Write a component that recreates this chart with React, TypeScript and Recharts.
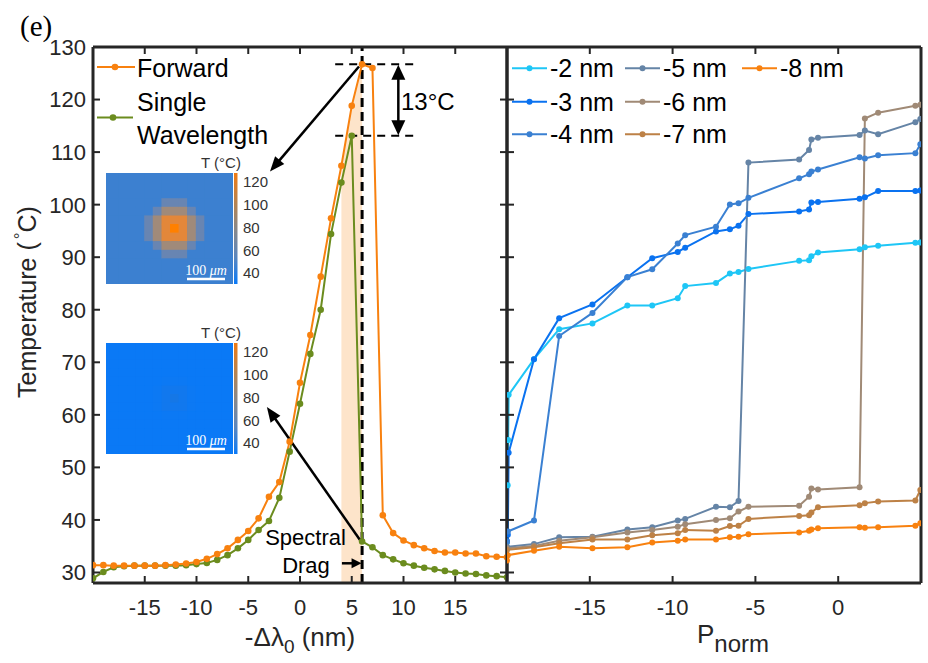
import React from 'react';
import { ComposedChart, LineChart, Line, Area, XAxis, YAxis, ReferenceLine } from 'recharts';

// ---------------- data ----------------
const detuningNm = [-20, -19, -18, -17, -16, -15, -14, -13, -12, -11, -10, -9, -8, -7, -6, -5, -4, -3, -2, -1, 0, 1, 2, 3, 4, 5, 6, 7, 8, 9, 10, 11, 12, 13, 14, 15, 16, 17, 18, 19, 20];
const forwardTempC = [31.4, 31.4, 31.3, 31.3, 31.3, 31.3, 31.3, 31.4, 31.5, 31.7, 32.0, 32.6, 33.5, 34.6, 36.2, 37.9, 40.3, 44.4, 47.2, 54.9, 66.1, 75.2, 86.3, 97.4, 107.4, 118.8, 126.7, 126.0, 40.9, 37.5, 36.1, 35.2, 34.6, 34.1, 33.8, 33.8, 33.6, 33.6, 33.1, 33.0, 32.9];
const singleTempC = [28.9, 30.1, 31.0, 31.2, 31.3, 31.3, 31.3, 31.3, 31.3, 31.4, 31.6, 31.8, 32.4, 33.3, 34.6, 36.2, 38.1, 39.8, 44.2, 53.0, 62.1, 71.6, 80.0, 94.4, 104.2, 113.1, 35.9, 34.8, 33.3, 32.5, 31.75, 31.3, 30.9, 30.6, 30.3, 30.0, 29.8, 29.7, 29.45, 29.3, 29.1];
const dragBandNm = [4, 5, 6];

const tempTicks = [30, 40, 50, 60, 70, 80, 90, 100, 110, 120, 130];
const detuningTicks = [-15, -10, -5, 0, 5, 10, 15];
const powerTicks = [-15, -10, -5, 0];

// shared P_norm sampling after the first (left-edge) points
const pGrid = [-18.37, -16.85, -14.84, -12.73, -11.23, -9.69, -9.24, -7.38, -6.54, -6.02, -5.42, -2.36, -1.76, -1.62, -1.22, 1.29, 1.61, 2.41, 4.66, 4.96];

const m2Start = { p: [-20, -19.96, -19.93, -19.9], t: [35.8, 46.6, 55.2, 63.8] };
const m2Temp = [70.6, 76.3, 77.4, 80.8, 80.8, 82.2, 84.5, 85.1, 86.9, 87.2, 87.75, 89.3, 89.4, 90.2, 90.9, 91.5, 91.9, 92.2, 92.75, 92.8];
const m3Start = { p: [-20, -19.95, -19.9], t: [36.0, 37.2, 52.8] };
const m3Temp = [70.6, 78.4, 81.0, 86.2, 89.8, 91.0, 91.8, 94.9, 95.3, 96.0, 98.2, 98.7, 99.1, 100.4, 100.5, 101.1, 101.4, 102.6, 102.6, 102.7];
const m4Start = { p: [-20, -19.95], t: [35.8, 37.8] };
const m4Temp = [39.9, 75.0, 79.4, 86.2, 87.7, 92.6, 94.2, 95.8, 100.05, 100.25, 101.3, 105.0, 105.8, 106.3, 106.7, 109.0, 108.8, 109.4, 109.8, 111.5];
const m5Start = { p: [-20], t: [34.9] };
const m5Temp = [35.4, 36.7, 36.8, 38.2, 38.6, 39.9, 40.2, 42.5, 42.4, 43.6, 108.0, 108.6, 110.4, 112.4, 112.75, 113.25, 114.1, 113.4, 115.7, 116.3];
const m6Start = { p: [-20], t: [34.6] };
const m6Temp = [35.05, 36.05, 36.7, 37.6, 38.1, 38.7, 39.2, 40.0, 40.3, 41.6, 42.5, 42.7, 44.4, 46.0, 45.8, 46.2, 116.4, 117.5, 118.8, 119.0];
const m7Start = { p: [-20], t: [34.3] };
const m7Temp = [34.8, 35.55, 36.3, 36.3, 37.1, 37.45, 38.1, 37.95, 38.85, 38.9, 40.2, 40.75, 40.9, 41.4, 42.4, 42.8, 43.2, 43.5, 43.7, 45.7];
const m8Start = { p: [-20, -19.95], t: [32.3, 33.3] };
const m8Temp = [34.15, 34.9, 34.6, 34.8, 35.7, 36.05, 36.3, 36.3, 36.7, 36.8, 37.3, 37.6, 37.95, 38.2, 38.4, 38.6, 38.5, 38.6, 38.9, 39.35];

const sweepNames = ['-2 nm', '-3 nm', '-4 nm', '-5 nm', '-6 nm', '-7 nm', '-8 nm'];
const sweepColors = ['#1ec6f6', '#0a72f0', '#3a80d2', '#6584a6', '#a08a76', '#bd8146', '#f8810f'];
const sweepStarts = [m2Start, m3Start, m4Start, m5Start, m6Start, m7Start, m8Start];
const sweepTemps = [m2Temp, m3Temp, m4Temp, m5Temp, m6Temp, m7Temp, m8Temp];

const FORWARD_COLOR = '#f8810f';
const SINGLE_COLOR = '#6b8c1e';

// inset heat maps (ring colour by distance from the hot spot, in cells)
const heatRings1 = ['#ff8000', '#e3873a', '#a08a7a', '#6885b2', '#3c80d0'];
const heatRings2 = ['#1577e6', '#1178ee', '#0c79f4', '#0a79f6'];
const colorbarLabels = [120, 100, 80, 60, 40];

// ---------------- layout ----------------
const W = 928;
const H = 663;
const TOP = 47;
const BOTTOM = 583;
const LX0 = 93;
const MID = 507;
const RX1 = 921;
const INK = '#262626';
const FONT = '"Liberation Sans", Arial, Helvetica, sans-serif';

const leftRows = detuningNm.map((x, i) => ({
  x,
  fwd: forwardTempC[i],
  single: singleTempC[i],
  band: dragBandNm.includes(x) ? forwardTempC[i] : null,
}));

const sweeps = sweepNames.map((name, k) => {
  const ps = [...sweepStarts[k].p, ...pGrid];
  const ts = [...sweepStarts[k].t, ...sweepTemps[k]];
  return { name, color: sweepColors[k], data: ps.map((p, i) => ({ p, t: ts[i] })) };
});

// ---------------- ticks ----------------
const BottomTick = (props: any) => {
  const { x, payload } = props;
  return (
    <g>
      <line x1={x} x2={x} y1={BOTTOM} y2={BOTTOM - 7} stroke={INK} strokeWidth={2} />
      <text x={x} y={BOTTOM + 32} textAnchor="middle" fontSize={22} fill={INK} fontFamily={FONT}>
        {payload.value}
      </text>
    </g>
  );
};
const TopTick = (props: any) => {
  const { x } = props;
  return <line x1={x} x2={x} y1={TOP} y2={TOP + 7} stroke={INK} strokeWidth={2} />;
};
const LeftTick = (props: any) => {
  const { y, payload } = props;
  return (
    <g>
      <line x1={LX0} x2={LX0 + 7} y1={y} y2={y} stroke={INK} strokeWidth={2} />
      <text x={86} y={y} dy="0.36em" textAnchor="end" fontSize={22} fill={INK} fontFamily={FONT}>
        {payload.value}
      </text>
    </g>
  );
};
const MidInTickLeft = (props: any) => {
  const { y } = props;
  return <line x1={MID} x2={MID - 7} y1={y} y2={y} stroke={INK} strokeWidth={2} />;
};
const MidInTickRight = (props: any) => {
  const { y } = props;
  return <line x1={MID} x2={MID + 7} y1={y} y2={y} stroke={INK} strokeWidth={2} />;
};
const NoTick = () => <g />;

// arrow shape for reference segments
const makeArrow = (startHead: boolean, endHead: boolean, len: number, half: number, sw: number) => (p: any) => {
  const { x1, y1, x2, y2 } = p;
  const dx = x2 - x1;
  const dy = y2 - y1;
  const L = Math.hypot(dx, dy) || 1;
  const ux = dx / L;
  const uy = dy / L;
  const head = (tx: number, ty: number, dx0: number, dy0: number) => {
    const bx = tx - dx0 * len;
    const by = ty - dy0 * len;
    return `${tx},${ty} ${bx - dy0 * half},${by + dx0 * half} ${bx + dy0 * half},${by - dx0 * half}`;
  };
  const sx = startHead ? x1 + ux * len * 0.8 : x1;
  const sy = startHead ? y1 + uy * len * 0.8 : y1;
  const ex = endHead ? x2 - ux * len * 0.8 : x2;
  const ey = endHead ? y2 - uy * len * 0.8 : y2;
  return (
    <g>
      <line x1={sx} y1={sy} x2={ex} y2={ey} stroke="#000" strokeWidth={sw} />
      {startHead && <polygon points={head(x1, y1, -ux, -uy)} fill="#000" />}
      {endHead && <polygon points={head(x2, y2, ux, uy)} fill="#000" />}
    </g>
  );
};

// ---------------- insets ----------------
const HeatInset = ({ y0, rings, gid, clipId }: { y0: number; rings: string[]; gid: string; clipId: string }) => {
  const x0 = 106;
  const w = 127;
  const h = 111;
  const cell = 8.6;
  const cx = 170;
  const cy = y0 + 51;
  const cells: any[] = [];
  for (let c = -8; c <= 8; c++) {
    for (let r = -7; r <= 7; r++) {
      const d = Math.round(Math.sqrt(c * c + r * r));
      const col = rings[Math.min(d, rings.length - 1)];
      cells.push(<rect key={`${c}_${r}`} x={cx + c * cell} y={cy + r * cell} width={cell + 0.4} height={cell + 0.4} fill={col} />);
    }
  }
  const labelYs = colorbarLabels.map((_, i) => y0 + 9 + i * 22.7);
  return (
    <g>
      <defs>
        <clipPath id={clipId}>
          <rect x={x0} y={y0} width={w} height={h} />
        </clipPath>
        <linearGradient id={gid} x1="0" y1="0" x2="0" y2="1">
          <stop offset="0" stopColor="#f07a12" />
          <stop offset="0.3" stopColor="#b08458" />
          <stop offset="0.5" stopColor="#8a8888" />
          <stop offset="0.75" stopColor="#5c86bc" />
          <stop offset="1" stopColor="#0a7af8" />
        </linearGradient>
      </defs>
      <g clipPath={`url(#${clipId})`}>
        <rect x={x0} y={y0} width={w} height={h} fill={rings[rings.length - 1]} />
        {cells}
      </g>
      <rect x={234} y={y0} width={3.5} height={h} fill={`url(#${gid})`} />
      <text x={221} y={y0 - 10} dy="0.35em" textAnchor="middle" fontSize={15} fill="#333" fontFamily={FONT}>
        T (°C)
      </text>
      {colorbarLabels.map((v, i) => (
        <text key={v} x={243} y={labelYs[i]} dy="0.36em" fontSize={15} fill="#333" fontFamily={FONT}>
          {v}
        </text>
      ))}
      <line x1={187} x2={225} y1={y0 + 106} y2={y0 + 106} stroke="#fff" strokeWidth={2.5} />
      <text x={206} y={y0 + 102} textAnchor="middle" fontSize={14} fill="#fff" fontFamily='"Liberation Serif", "DejaVu Serif", serif'>
        100 <tspan fontStyle="italic">μm</tspan>
      </text>
    </g>
  );
};

export default function App() {
  return (
    <div style={{ position: 'absolute', left: 0, top: 0, width: W, height: H, background: '#fff' }}>
      {/* Left panel: temperature vs detuning */}
      <div style={{ position: 'absolute', left: 0, top: 0 }}>
        <ComposedChart width={W} height={H} data={leftRows} margin={{ top: TOP - 1, right: W - MID - 1, bottom: 50, left: 0 }}>
          <XAxis xAxisId="b" dataKey="x" type="number" domain={[-20, 20]} ticks={detuningTicks} allowDataOverflow
            height={30} tickLine={false} axisLine={{ stroke: INK, strokeWidth: 3 }} tick={<BottomTick />} interval={0} />
          <XAxis xAxisId="t" orientation="top" dataKey="x" type="number" domain={[-20, 20]} ticks={detuningTicks} allowDataOverflow
            height={1} tickLine={false} axisLine={{ stroke: INK, strokeWidth: 3 }} tick={<TopTick />} interval={0} />
          <YAxis yAxisId="l" type="number" domain={[28, 130]} ticks={tempTicks} allowDataOverflow width={LX0}
            tickLine={false} axisLine={{ stroke: INK, strokeWidth: 3 }} tick={<LeftTick />} interval={0} />
          <YAxis yAxisId="r" orientation="right" type="number" domain={[28, 130]} ticks={tempTicks} allowDataOverflow width={1}
            tickLine={false} axisLine={{ stroke: INK, strokeWidth: 3 }} tick={<MidInTickLeft />} interval={0} />

          <Area xAxisId="b" yAxisId="l" type="linear" dataKey="band" stroke="none" fill="#fde4ca" fillOpacity={1}
            isAnimationActive={false} legendType="none" dot={false} activeDot={false} />

          <ReferenceLine xAxisId="b" yAxisId="l" x={6} stroke="#000" strokeWidth={3} strokeDasharray="9 5" />
          <ReferenceLine xAxisId="b" yAxisId="l" segment={[{ x: 3.4, y: 126.7 }, { x: 11.4, y: 126.7 }]} stroke="#000" strokeWidth={2} strokeDasharray="8 6" />
          <ReferenceLine xAxisId="b" yAxisId="l" segment={[{ x: 3.4, y: 113.1 }, { x: 11.4, y: 113.1 }]} stroke="#000" strokeWidth={2} strokeDasharray="8 6" />

          <Line xAxisId="b" yAxisId="l" type="linear" dataKey="single" stroke={SINGLE_COLOR} strokeWidth={2}
            dot={{ r: 3.3, fill: SINGLE_COLOR, stroke: SINGLE_COLOR, strokeWidth: 0 }} isAnimationActive={false} />
          <Line xAxisId="b" yAxisId="l" type="linear" dataKey="fwd" stroke={FORWARD_COLOR} strokeWidth={2}
            dot={{ r: 3.3, fill: FORWARD_COLOR, stroke: FORWARD_COLOR, strokeWidth: 0 }} isAnimationActive={false} />

          <ReferenceLine xAxisId="b" yAxisId="l" segment={[{ x: 9.5, y: 126.6 }, { x: 9.5, y: 113.2 }]}
            shape={makeArrow(true, true, 15, 7, 2.5)} />
          <ReferenceLine xAxisId="b" yAxisId="l" segment={[{ x: 5.7, y: 126.3 }, { x: -2.9, y: 106.3 }]}
            shape={makeArrow(false, true, 15, 6, 2.5)} />
          <ReferenceLine xAxisId="b" yAxisId="l" segment={[{ x: 5.9, y: 35.9 }, { x: -3.2, y: 61.5 }]}
            shape={makeArrow(false, true, 15, 6, 2.5)} />
          <ReferenceLine xAxisId="b" yAxisId="l" segment={[{ x: 4.05, y: 31.75 }, { x: 5.95, y: 31.75 }]}
            shape={makeArrow(false, true, 10, 5, 2.5)} />
        </ComposedChart>
      </div>

      {/* Right panel: temperature vs normalised power */}
      <div style={{ position: 'absolute', left: 0, top: 0 }}>
        <LineChart width={W} height={H} margin={{ top: TOP - 1, right: W - RX1 - 1, bottom: 50, left: MID - 1 }}>
          <XAxis xAxisId="b" dataKey="p" type="number" domain={[-20, 5]} ticks={powerTicks} allowDataOverflow
            height={30} tickLine={false} axisLine={{ stroke: INK, strokeWidth: 3 }} tick={<BottomTick />} interval={0} />
          <XAxis xAxisId="t" orientation="top" dataKey="p" type="number" domain={[-20, 5]} ticks={powerTicks} allowDataOverflow
            height={1} tickLine={false} axisLine={{ stroke: INK, strokeWidth: 3 }} tick={<TopTick />} interval={0} />
          <YAxis yAxisId="l" type="number" domain={[28, 130]} ticks={tempTicks} allowDataOverflow width={1}
            tickLine={false} axisLine={{ stroke: INK, strokeWidth: 3 }} tick={<MidInTickRight />} interval={0} />
          <YAxis yAxisId="r" orientation="right" type="number" domain={[28, 130]} ticks={tempTicks} allowDataOverflow width={1}
            tickLine={false} axisLine={{ stroke: INK, strokeWidth: 3 }} tick={<NoTick />} interval={0} />
          {sweeps.map((s) => (
            <Line key={s.name} xAxisId="b" yAxisId="l" data={s.data} dataKey="t" name={s.name} type="linear"
              stroke={s.color} strokeWidth={2} dot={{ r: 3, fill: s.color, stroke: s.color, strokeWidth: 0 }}
              isAnimationActive={false} />
          ))}
        </LineChart>
      </div>

      {/* annotations, legends, insets */}
      <svg width={W} height={H} style={{ position: 'absolute', left: 0, top: 0, pointerEvents: 'none' }}>
        <text x={20} y={36} fontSize={29} fill="#000" fontFamily='"Liberation Serif", "Times New Roman", serif'>(e)</text>

        {/* y label */}
        <text transform="translate(36,302) rotate(-90)" textAnchor="middle" fontSize={25} fill={INK} fontFamily={FONT}>
          Temperature (<tspan dx={3} dy={-10} fontSize={17}>°</tspan><tspan dy={10}>C)</tspan>
        </text>
        {/* x labels */}
        <text x={300} y={646} textAnchor="middle" fontSize={26} fill={INK} fontFamily={FONT}>
          -Δλ<tspan dy={7} fontSize={19}>0</tspan><tspan dy={-7}> (nm)</tspan>
        </text>
        <text x={733} y={643} textAnchor="middle" fontSize={26} fill={INK} fontFamily={FONT}>
          P<tspan dy={9} fontSize={24}>norm</tspan>
        </text>

        {/* left legend */}
        <line x1={97} x2={135} y1={67} y2={67} stroke={FORWARD_COLOR} strokeWidth={2} />
        <circle cx={115} cy={67} r={3.3} fill={FORWARD_COLOR} />
        <text x={137} y={77} fontSize={25} fill="#000" fontFamily={FONT}>Forward</text>
        <line x1={97} x2={133} y1={117.5} y2={117.5} stroke={SINGLE_COLOR} strokeWidth={2} />
        <circle cx={113} cy={117.5} r={3.3} fill={SINGLE_COLOR} />
        <text x={137} y={111} fontSize={25} fill="#000" fontFamily={FONT}>Single</text>
        <text x={137} y={144} fontSize={25} fill="#000" fontFamily={FONT}>Wavelength</text>

        {/* right legend */}
        {sweeps.map((s, k) => {
          const col = Math.floor(k / 3);
          const row = k % 3;
          const lx = [512, 625, 742][col];
          const ly = [68.3, 101.7, 134.3][row];
          return (
            <g key={s.name}>
              <line x1={lx} x2={lx + 35} y1={ly} y2={ly} stroke={s.color} strokeWidth={2} />
              <circle cx={lx + 17.5} cy={ly} r={3} fill={s.color} />
              <text x={lx + 38} y={ly + 9} fontSize={25} fill="#000" fontFamily={FONT}>{s.name}</text>
            </g>
          );
        })}

        {/* annotations */}
        <text x={401} y={110} fontSize={24} fill="#000" fontFamily={FONT}>13°C</text>
        <text x={305.5} y={545} textAnchor="middle" fontSize={22} fill="#000" fontFamily={FONT}>Spectral</text>
        <text x={306} y={573} textAnchor="middle" fontSize={22} fill="#000" fontFamily={FONT}>Drag</text>

        <HeatInset y0={173} rings={heatRings1} gid="cb1" clipId="clip1" />
        <HeatInset y0={343} rings={heatRings2} gid="cb2" clipId="clip2" />
      </svg>
    </div>
  );
}
